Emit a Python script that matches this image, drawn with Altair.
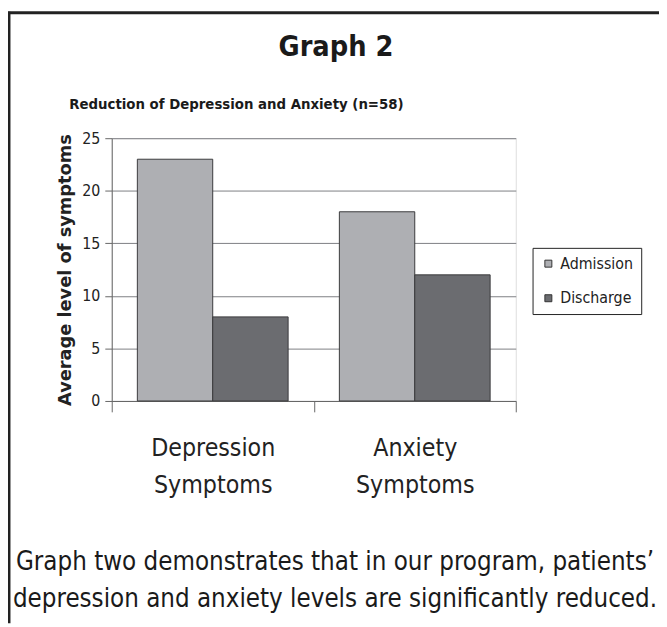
import altair as alt
import pandas as pd

categories = ["Depression Symptoms", "Anxiety Symptoms"]
series = ["Admission", "Discharge"]
admission = [23, 18]
discharge = [8, 12]
y_ticks = [0, 5, 10, 15, 20, 25]
colors = ["#aeafb3", "#6b6c70"]

main_title = "Graph 2"
sub_title = "Reduction of Depression and Anxiety (n=58)"
y_title = "Average level of symptoms"
caption = ["Graph two demonstrates that in our program, patients\u2019",
           "depression and anxiety levels are significantly reduced."]

rows = []
for i, c in enumerate(categories):
    rows.append({"category": c, "series": series[0], "value": admission[i]})
    rows.append({"category": c, "series": series[1], "value": discharge[i]})
df = pd.DataFrame(rows)

NARROW = "DejaVu Sans Condensed, sans-serif"

W, H = 409, 266
PL, PT = 105, 128
TOTW, TOTH = 659, 619

bars = alt.Chart(df).mark_bar(stroke="#3a3a3c", strokeWidth=1).encode(
    x=alt.X("category:N", sort=categories, title=None,
            scale=alt.Scale(paddingInner=0, paddingOuter=0),
            axis=alt.Axis(labelExpr="split(datum.label, ' ')", labelAngle=0,
                          labelFontSize=25, labelFont=NARROW, labelColor="#222",
                          labelPadding=24, labelLineHeight=38,
                          tickBand="extent", tickSize=11, tickColor="#666",
                          domainColor="#666", grid=False)),
    xOffset=alt.XOffset("series:N", sort=series,
                        scale=alt.Scale(paddingOuter=0.34, paddingInner=0)),
    y=alt.Y("value:Q", scale=alt.Scale(domain=[0, 25], nice=False),
            axis=alt.Axis(values=y_ticks, title=y_title,
                          titleFont="DejaVu Sans", titleFontWeight="bold",
                          titleFontSize=18, titleColor="#222", titlePadding=7,
                          labelFont=NARROW, labelFontSize=16, labelColor="#222",
                          labelPadding=5, tickSize=7, tickColor="#666",
                          domainColor="#666", gridColor="#7d7e82", gridWidth=1)),
    color=alt.Color("series:N", sort=series,
                    scale=alt.Scale(domain=series, range=colors),
                    legend=alt.Legend(title=None, orient="none", legendX=426, legendY=111,
                                      symbolType="square", symbolSize=50,
                                      symbolStrokeColor="#333", symbolStrokeWidth=1,
                                      labelFont=NARROW, labelFontSize=16, labelColor="#222",
                                      labelOffset=4,
                                      rowPadding=19, padding=8,
                                      strokeColor="#222", fillColor="white")),
)

title_df = pd.DataFrame({"t": [main_title]})
title_mark = alt.Chart(title_df).mark_text(
    font=NARROW, fontSize=29, fontWeight="bold", color="#1a1a1a",
    align="center", baseline="alphabetic").encode(
    text="t:N", x=alt.value(227), y=alt.value(-83))

sub_df = pd.DataFrame({"t": [sub_title]})
sub_mark = alt.Chart(sub_df).mark_text(
    font=NARROW, fontSize=15, fontWeight="bold", color="#1a1a1a",
    align="left", baseline="alphabetic").encode(
    text="t:N", x=alt.value(-43), y=alt.value(-30))

cap_df = pd.DataFrame({"t": [caption]})
cap_mark = alt.Chart(cap_df).mark_text(
    font=NARROW, fontSize=26, color="#1a1a1a", lineHeight=38,
    align="center", baseline="alphabetic").encode(
    text="t:N", x=alt.value(226), y=alt.value(437))

frame_top = alt.Chart(title_df).mark_rule(color="#222", strokeWidth=3).encode(
    x=alt.value(-PL), x2=alt.value(TOTW - PL), y=alt.value(-PT + 1))
frame_left = alt.Chart(title_df).mark_rule(color="#222", strokeWidth=3).encode(
    x=alt.value(-PL + 1), y=alt.value(-PT), y2=alt.value(TOTH - PT))

chart = alt.layer(bars, title_mark, sub_mark, cap_mark, frame_top, frame_left).properties(
    width=W, height=H,
    autosize=alt.AutoSizeParams(type="none"),
    padding={"left": PL, "top": PT, "right": TOTW - PL - W, "bottom": TOTH - PT - H},
).configure_view(fill="#c8c9cd", stroke="#8a8b8f", strokeWidth=1).configure(background="white")

chart.save("out.html", embed_options={"renderer": "svg", "actions": False})
